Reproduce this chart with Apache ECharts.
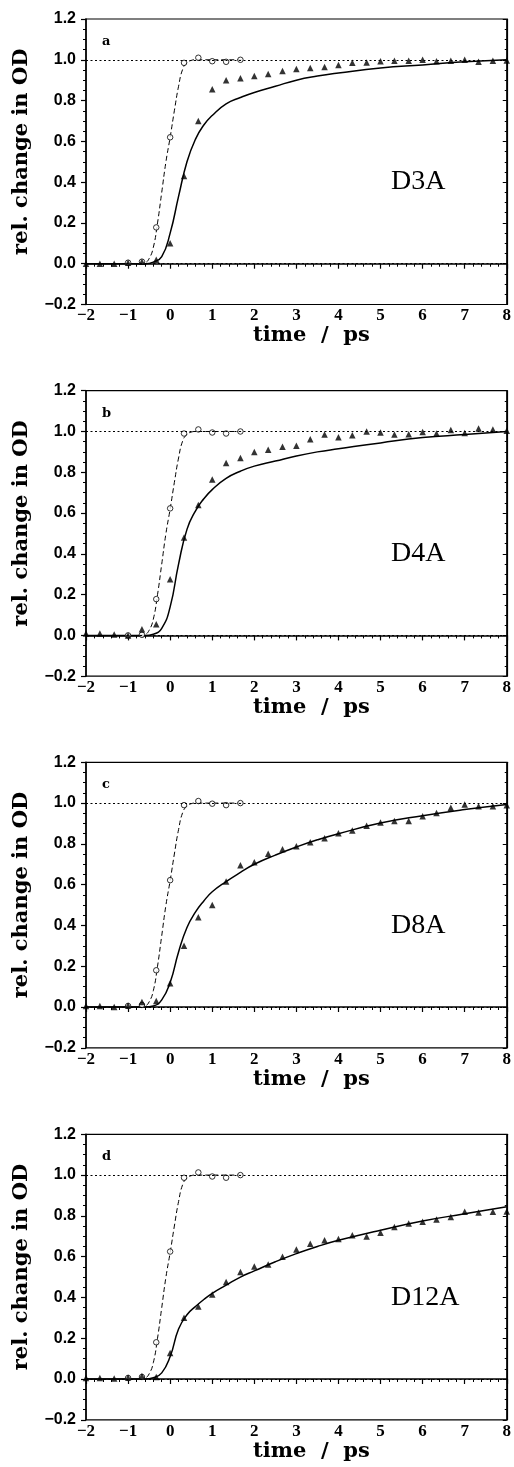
<!DOCTYPE html>
<html>
<head>
<meta charset="utf-8">
<script src="https://cdn.jsdelivr.net/npm/echarts@6/dist/echarts.min.js"></script>
<style>
html,body{margin:0;padding:0;background:#fff;}
#chart{width:514px;height:1467px;}
</style>
</head>
<body>
<div id="chart"></div>
<script>
// ---------- data ----------
const panelLetters = ['a', 'b', 'c', 'd'];
const panelLabels = ['D3A', 'D4A', 'D8A', 'D12A'];

const xTicks = [-2, -1, 0, 1, 2, 3, 4, 5, 6, 7, 8];
const yTicks = [-0.2, 0.0, 0.2, 0.4, 0.6, 0.8, 1.0, 1.2];
const refLevels = [0, 1];

// triangles (sample), times in ps
const triT = [-2, -1.67, -1.33, -1, -0.67, -0.33, 0, 0.33, 0.67, 1, 1.33, 1.67, 2, 2.33, 2.67, 3,
  3.33, 3.67, 4, 4.33, 4.67, 5, 5.33, 5.67, 6, 6.33, 6.67, 7, 7.33, 7.67, 8];
const triA = [0, 0, 0, 0.005, 0.01, 0.02, 0.10, 0.43, 0.70, 0.855, 0.90, 0.91, 0.92, 0.93, 0.945, 0.955,
  0.96, 0.965, 0.975, 0.985, 0.987, 0.993, 0.995, 0.995, 1.0, 0.993, 0.995, 1.0, 0.99, 0.995, 0.997];
const triB = [0.01, 0.01, 0.005, 0, 0.03, 0.055, 0.275, 0.48, 0.64, 0.765, 0.845, 0.87, 0.90, 0.91, 0.925, 0.93,
  0.962, 0.985, 0.972, 0.982, 1.0, 0.995, 0.985, 0.987, 0.998, 0.99, 1.007, 0.993, 1.015, 1.01, 1.003];
const triC = [0.005, 0.005, 0, 0.008, 0.025, 0.03, 0.117, 0.30, 0.44, 0.50, 0.615, 0.695, 0.71, 0.752, 0.774, 0.788,
  0.808, 0.827, 0.852, 0.866, 0.889, 0.905, 0.912, 0.912, 0.935, 0.951, 0.977, 0.993, 0.984, 0.984, 0.99];
const triD = [0.005, 0.005, 0.002, 0.008, 0.015, 0.01, 0.128, 0.30, 0.355, 0.414, 0.476, 0.525, 0.552, 0.561, 0.60, 0.635,
  0.663, 0.68, 0.686, 0.705, 0.699, 0.717, 0.745, 0.763, 0.771, 0.782, 0.794, 0.82, 0.817, 0.82, 0.822];

// open circles (reference)
const circT = [-1, -0.67, -0.33, 0, 0.33, 0.67, 1, 1.33, 1.67];
const circA = [0.005, 0.01, 0.178, 0.62, 0.985, 1.01, 0.993, 0.99, 1.0];
const circB = [0, 0.003, 0.178, 0.623, 0.99, 1.01, 0.995, 0.99, 1.0];
const circC = [0.005, 0.01, 0.18, 0.622, 0.99, 1.01, 0.997, 0.99, 1.0];
const circD = [0.005, 0.01, 0.18, 0.625, 0.987, 1.013, 0.993, 0.987, 1.0];

// dashed curve (same in all panels)
const dashT = [-0.75, -0.6, -0.5, -0.4, -0.3, -0.2, -0.1, 0, 0.1, 0.2, 0.3, 0.4, 0.5, 0.6, 1.7];
const dashV = [0, 0.005, 0.025, 0.08, 0.2, 0.35, 0.5, 0.62, 0.75, 0.87, 0.955, 0.985, 0.997, 1.0, 1.0];

// solid fit curves
const fitTA = [-2, -0.6, -0.4, -0.2, 0, 0.2, 0.4, 0.6, 0.8, 1, 1.33, 1.67, 2, 2.5, 3, 3.5, 4, 5, 6, 7, 8];
const fitVA = [0, 0, 0.008, 0.035, 0.15, 0.33, 0.5, 0.61, 0.68, 0.727, 0.784, 0.815, 0.84, 0.87, 0.90, 0.92, 0.935, 0.96, 0.975, 0.99, 1.0];
const fitTB = [-2, -0.6, -0.4, -0.2, 0, 0.2, 0.4, 0.6, 0.8, 1, 1.33, 1.67, 2, 2.5, 3, 3.5, 4, 5, 6, 7, 8];
const fitVB = [0, 0, 0.006, 0.035, 0.14, 0.35, 0.52, 0.61, 0.67, 0.715, 0.77, 0.805, 0.83, 0.855, 0.88, 0.90, 0.915, 0.944, 0.97, 0.985, 1.0];
const fitTC = [-2, -0.6, -0.4, -0.2, 0, 0.2, 0.4, 0.6, 0.8, 1, 1.33, 1.67, 2, 2.5, 3, 3.5, 4, 5, 6, 7, 8];
const fitVC = [0, 0, 0.005, 0.035, 0.12, 0.27, 0.39, 0.465, 0.52, 0.565, 0.615, 0.66, 0.70, 0.745, 0.785, 0.82, 0.85, 0.902, 0.938, 0.968, 0.993];
const fitTD = [-2, -0.6, -0.4, -0.2, 0, 0.2, 0.4, 0.6, 0.8, 1, 1.33, 1.67, 2, 2.5, 3, 3.5, 4, 5, 6, 7, 8];
const fitVD = [0, 0, 0.006, 0.03, 0.11, 0.245, 0.315, 0.355, 0.39, 0.42, 0.46, 0.50, 0.53, 0.575, 0.615, 0.65, 0.68, 0.73, 0.775, 0.81, 0.845];

// ---------- build ----------
const triSets = [triA, triB, triC, triD];
const circSets = [circA, circB, circC, circD];
const fitTs = [fitTA, fitTB, fitTC, fitTD];
const fitVs = [fitVA, fitVB, fitVC, fitVD];

const zip = (xs, ys) => xs.map((x, i) => [x, ys[i]]);
const minus = s => String(s).replace('-', '\u2212');

const gridTops = [19, 390.7, 762.3, 1134.3];
const gridH = 285.5;
const gridLeft = 86, gridW = 423;

const grids = [], xAxes = [], yAxes = [], series = [], titles = [];

panelLetters.forEach((letter, i) => {
  grids.push({left: gridLeft, top: gridTops[i], width: gridW, height: gridH,
    show: true, borderColor: '#000', borderWidth: 1.2, containLabel: false});

  xAxes.push({
    type: 'value', gridIndex: i, min: xTicks[0], max: xTicks[xTicks.length - 1], interval: 1,
    name: 'time  /  ps', nameLocation: 'middle', nameGap: 15,
    nameTextStyle: {fontFamily: 'DejaVu Serif', fontWeight: 'bold', fontSize: 21, color: '#000',
      padding: [0, 0, 0, 30]},
    axisLine: {show: true, lineStyle: {color: '#000', width: 1.5}},
    axisTick: {show: true, inside: false, length: 5, lineStyle: {color: '#000', width: 1.2}},
    minorTick: {show: true, splitNumber: 5, length: 3, lineStyle: {color: '#000', width: 1}},
    axisLabel: {margin: 3, fontFamily: 'Liberation Serif', fontWeight: 'bold', fontSize: 17, color: '#000',
      formatter: v => minus(v)},
    splitLine: {show: false}
  });

  yAxes.push({
    type: 'value', gridIndex: i, min: yTicks[0], max: yTicks[yTicks.length - 1], interval: 0.2,
    position: 'left',
    name: 'rel. change in OD', nameLocation: 'middle', nameGap: 54,
    nameTextStyle: {fontFamily: 'DejaVu Serif', fontWeight: 'bold', fontSize: 21, color: '#000',
      padding: [0, 0, 0, 20]},
    axisLine: {show: true, onZero: false, lineStyle: {color: '#000', width: 1.5}},
    axisTick: {show: true, inside: false, length: 5, lineStyle: {color: '#000', width: 1.2}},
    minorTick: {show: true, splitNumber: 4, length: 3, lineStyle: {color: '#000', width: 1}},
    axisLabel: {margin: 10, fontFamily: 'Liberation Sans', fontWeight: 'bold', fontSize: 16, color: '#000',
      formatter: v => minus(v.toFixed(1))},
    splitLine: {show: false}
  });
  yAxes.push({
    type: 'value', gridIndex: i, min: yTicks[0], max: yTicks[yTicks.length - 1], interval: 0.2,
    position: 'right',
    axisLine: {show: true, onZero: false, lineStyle: {color: '#000', width: 1.2}},
    axisTick: {show: true, inside: true, length: 4, lineStyle: {color: '#000', width: 1}},
    minorTick: {show: true, splitNumber: 4, length: 2, lineStyle: {color: '#000', width: 1}},
    axisLabel: {show: false},
    splitLine: {show: false}
  });

  series.push({
    type: 'line', xAxisIndex: i, yAxisIndex: 2 * i, data: zip(fitTs[i], fitVs[i]),
    smooth: 0.5, showSymbol: false, silent: true, z: 3,
    lineStyle: {color: '#000', width: 1.5},
    markLine: {silent: true, symbol: 'none', label: {show: false},
      lineStyle: {color: '#000', type: [2, 2.5], width: 1},
      data: refLevels.map(v => ({yAxis: v}))}
  });
  series.push({
    type: 'line', xAxisIndex: i, yAxisIndex: 2 * i, data: zip(dashT, dashV),
    smooth: 0.5, showSymbol: false, silent: true, z: 3,
    lineStyle: {color: '#000', width: 1, type: [5, 3]}
  });
  series.push({
    type: 'scatter', xAxisIndex: i, yAxisIndex: 2 * i, data: zip(circT, circSets[i]),
    symbol: 'circle', symbolSize: 5.5, z: 4,
    itemStyle: {color: '#fff', borderColor: '#000', borderWidth: 1}
  });
  series.push({
    type: 'scatter', xAxisIndex: i, yAxisIndex: 2 * i, data: zip(triT, triSets[i]),
    symbol: 'triangle', symbolSize: 6.5, z: 5,
    itemStyle: {color: '#000'}
  });

  titles.push({text: letter, left: 97, top: gridTops[i] + 11,
    textStyle: {fontFamily: 'DejaVu Serif', fontWeight: 'bold', fontSize: 13, color: '#000'}});
  titles.push({text: panelLabels[i], left: 386, top: gridTops[i] + 144,
    textStyle: {fontFamily: 'Liberation Serif', fontWeight: 'normal', fontSize: 28, color: '#000'}});
});

const chart = echarts.init(document.getElementById('chart'), null, {renderer: 'canvas'});
chart.setOption({
  animation: false,
  backgroundColor: '#fff',
  title: titles,
  grid: grids,
  xAxis: xAxes,
  yAxis: yAxes,
  series: series
});
</script>
</body>
</html>
